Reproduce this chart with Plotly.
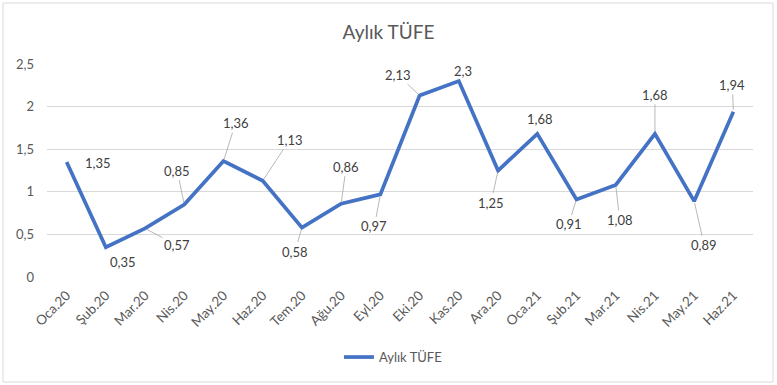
import plotly.graph_objects as go

categories = ["Oca.20", "Şub.20", "Mar.20", "Nis.20", "May.20", "Haz.20", "Tem.20", "Ağu.20", "Eyl.20",
              "Eki.20", "Kas.20", "Ara.20", "Oca.21", "Şub.21", "Mar.21", "Nis.21", "May.21", "Haz.21"]
values = [1.35, 0.35, 0.57, 0.85, 1.36, 1.13, 0.58, 0.86, 0.97,
          2.13, 2.3, 1.25, 1.68, 0.91, 1.08, 1.68, 0.89, 1.94]
series_name = "Aylık TÜFE"
y_ticks = [0, 0.5, 1, 1.5, 2, 2.5]

# label offsets in pixels (dx, dy) and whether a leader line is drawn
label_dx = [31, 17, 32, -7, 12, 27, -7, 5, -6, -22, 4, -7, 3, -8, 4, 0, 10, -1]
label_dy = [1, 15, 17, -34, -38, -41, 24, -37, 32, -21, -10, 32, -15, 25, 35, -39, 44, -27]
leader = [False, False, True, True, True, True, True, True, True, True, False, True, False, True, True, True, True, True]

def fmt(v):
    s = f"{v:.2f}".rstrip("0").rstrip(".")
    return s.replace(".", ",")

fig = go.Figure()
fig.add_trace(go.Scatter(
    x=categories, y=values, mode="lines", name=series_name,
    line=dict(color="#4472C4", width=3.7),
))

annotations = []
for c, v, dx, dy, ld in zip(categories, values, label_dx, label_dy, leader):
    annotations.append(dict(
        x=c, y=v, xref="x", yref="y", text=fmt(v),
        showarrow=True, ax=dx, ay=dy, arrowhead=0, arrowwidth=0.8,
        arrowcolor="#a6a6a6" if ld else "rgba(0,0,0,0)", standoff=2,
        font=dict(family="Lato", size=13, color="#404040"),
    ))

fig.update_layout(
    width=777, height=385,
    margin=dict(l=47, r=24, t=64, b=108),
    paper_bgcolor="white", plot_bgcolor="white",
    separators=",.",
    title=dict(text="Aylık TÜFE", x=0.5, xanchor="center", y=1 - 32 / 385, yanchor="middle",
               font=dict(family="Lato", size=19, color="#595959")),
    font=dict(family="Lato", color="#595959"),
    xaxis=dict(type="category", range=[-0.5, len(categories) - 0.5], showgrid=False, zeroline=False,
               showline=False, ticks="", tickangle=-45, ticklabelstandoff=7,
               tickfont=dict(size=13.5, color="#595959")),
    yaxis=dict(range=[0, 2.5], tickvals=y_ticks, showgrid=True, gridcolor="#d9d9d9", gridwidth=1,
               zeroline=False, showline=False, ticks="", ticklabelstandoff=12,
               tickfont=dict(size=13, color="#595959")),
    showlegend=True,
    legend=dict(orientation="h", x=0.49, xanchor="center", y=-0.376, yanchor="middle",
                font=dict(size=13, color="#595959")),
    annotations=annotations,
    shapes=[dict(type="rect", xref="paper", yref="paper",
                 x0=(3 - 47) / 706, x1=(773 - 47) / 706, y0=(277 - 382) / 213, y1=(277 - 3) / 213,
                 line=dict(color="#d9d9d9", width=1), fillcolor="rgba(0,0,0,0)", layer="below")],
)

fig.write_html("out.html")
